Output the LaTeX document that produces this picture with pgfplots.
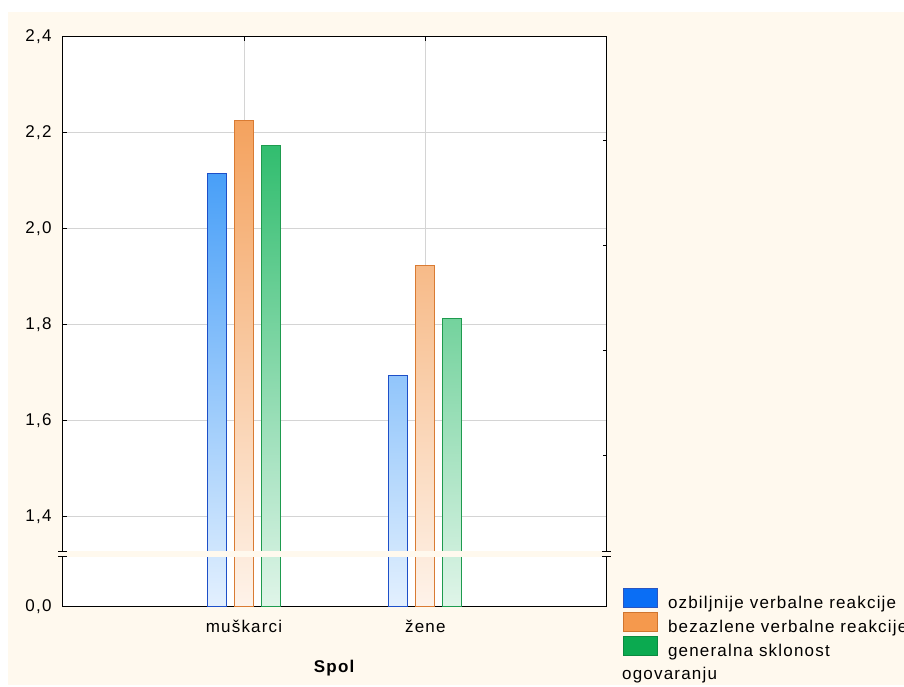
\documentclass[border=0pt]{standalone}
\usepackage{fontspec}
\setmainfont{Liberation Sans}[LetterSpace=7]
\usepackage{pgfplots}
\pgfplotsset{compat=1.18}

\definecolor{bgcream}{HTML}{FFF9EE}
\definecolor{gridc}{HTML}{D4D4D4}
\definecolor{bluetop}{HTML}{3595F7}
\definecolor{bluebot}{HTML}{E3F0FE}
\definecolor{blueD}{HTML}{1D4FC8}
\definecolor{oratop}{HTML}{F4A25E}
\definecolor{orabot}{HTML}{FEF3EA}
\definecolor{oraD}{HTML}{D97B33}
\definecolor{grntop}{HTML}{28BA68}
\definecolor{grnbot}{HTML}{E0F5E9}
\definecolor{grnD}{HTML}{1E9B4E}
\definecolor{legblue}{HTML}{0A6EF5}
\definecolor{legblueD}{HTML}{2A55C0}
\definecolor{legora}{HTML}{F5994D}
\definecolor{legoraD}{HTML}{D0752E}
\definecolor{leggrn}{HTML}{0BAA50}
\definecolor{leggrnD}{HTML}{0A8A40}

\newcommand{\legswatch}[2]{%
  \pgfsetfillcolor{#1}\pgfsetstrokecolor{#2}\pgfsetlinewidth{1pt}%
  \pgfpathrectangle{\pgfpoint{0pt}{-4.3pt}}{\pgfpoint{34pt}{19pt}}%
  \pgfusepath{fill,stroke}}

\begin{document}
\fontsize{17}{20}\selectfont
\begin{tikzpicture}
\useasboundingbox (0,0) rectangle (904pt,687pt);
\fill[white] (0,0) rectangle (904pt,687pt);
\fill[bgcream] (8pt,2pt) rectangle (904pt,675pt);

\begin{axis}[
  at={(62.7pt,80.3pt)}, anchor=south west,
  scale only axis, width=544pt, height=570pt,
  xmin=0, xmax=3, ymin=0, ymax=570,
  axis background/.style={fill=white},
  ybar, bar width=19pt,
  y filter/.expression={y<1 ? y : 89.7+(y-1.4)*480.2},
  xtick={1,2}, xticklabels={muškarci, žene},
  ytick={0,89.7,185.74,281.78,377.82,473.86,569.9},
  yticklabels={{0,0},{1,4},{1,6},{1,8},{2,0},{2,2},{2,4}},
  xtick pos=both, ytick pos=left,
  tick align=inside, major tick length=4pt,
  tick style={black, line width=1pt},
  axis line style={black, line width=1.1pt},
  grid=major, major grid style={gridc, line width=1pt},
  yticklabel style={inner sep=0pt, xshift=-11pt},
  xticklabel style={inner sep=0pt, yshift=-13pt},
  xlabel={\textbf{Spol}},
  xlabel style={at={(axis description cs:0.5,0)}, anchor=base, inner sep=0pt, yshift=-66pt},
  legend style={at={(1.030,0.0328)}, anchor=north west, draw=none, fill=none,
    inner sep=0pt, outer sep=0pt, row sep=1.5pt, column sep=10pt, nodes={inner sep=0pt}},
  legend cell align=left,
  clip=false,
]
% muškarci
\addplot[bar shift=-27pt, draw=blueD, line width=1pt,
  top color=bluetop!89!bluebot, bottom color=bluebot,
  legend image code/.code={\legswatch{legblue}{legblueD}}]
  coordinates {(1,2.116)};
\addlegendentry{ozbiljnije verbalne reakcije}
\addplot[bar shift=0pt, draw=oraD, line width=1pt,
  top color=oratop, bottom color=orabot,
  legend image code/.code={\legswatch{legora}{legoraD}}]
  coordinates {(1,2.225)};
\addlegendentry{bezazlene verbalne reakcije}
\addplot[bar shift=27pt, draw=grnD, line width=1pt,
  top color=grntop!95!grnbot, bottom color=grnbot,
  legend image code/.code={\legswatch{leggrn}{leggrnD}}]
  coordinates {(1,2.174)};
\addlegendentry{generalna sklonost}
% žene
\addplot[forget plot, bar shift=-27pt, draw=blueD, line width=1pt,
  top color=bluetop!47!bluebot, bottom color=bluebot]
  coordinates {(2,1.694)};
\addplot[forget plot, bar shift=0pt, draw=oraD, line width=1pt,
  top color=oratop!70!orabot, bottom color=orabot]
  coordinates {(2,1.924)};
\addplot[forget plot, bar shift=27pt, draw=grnD, line width=1pt,
  top color=grntop!59!grnbot, bottom color=grnbot]
  coordinates {(2,1.814)};
\coordinate (bL1) at (axis cs:0,49.7);
\coordinate (bL2) at (axis cs:0,55.2);
\coordinate (bR1) at (axis cs:3,49.7);
\coordinate (bR2) at (axis cs:3,55.2);
\end{axis}

\begin{axis}[
  at={(62.7pt,80.3pt)}, anchor=south west,
  scale only axis, width=544pt, height=570pt,
  xmin=0, xmax=3, ymin=0, ymax=570,
  axis x line=none, axis y line*=right,
  ytick={150.7,255.7,361,465.7}, yticklabels={},
  tick align=inside, major tick length=4pt,
  tick style={black, line width=1pt},
  axis line style={black, line width=1.1pt},
]
\end{axis}

\fill[bgcream] ([xshift=-8pt]bL1) rectangle ([xshift=8pt]bR2);
\foreach \c in {bL1,bL2,bR1,bR2}{
  \draw[black, line width=1pt] ([xshift=-4.5pt]\c) -- ([xshift=4.5pt]\c);
}
\node[anchor=base west, inner sep=0pt] at (622pt,7pt) {ogovaranju};
\end{tikzpicture}
\end{document}
